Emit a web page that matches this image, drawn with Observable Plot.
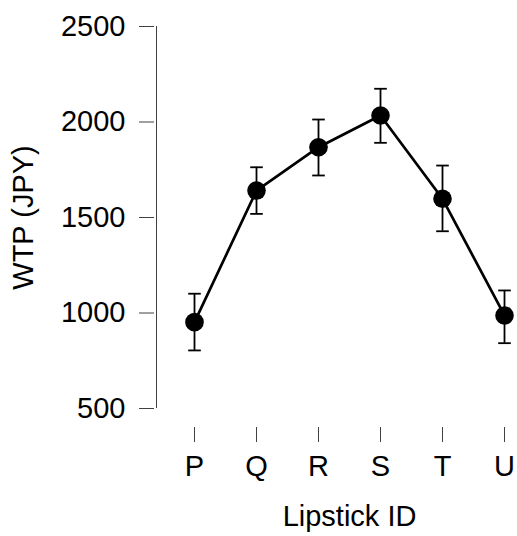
<!DOCTYPE html>
<html>
<head>
<meta charset="utf-8">
<script src="https://cdn.jsdelivr.net/npm/d3@7"></script>
<script src="https://cdn.jsdelivr.net/npm/@observablehq/plot@0.6"></script>
<style>
  html, body { margin: 0; padding: 0; background: white; }
</style>
</head>
<body>
<div id="chart"></div>
<script>
const ids = ["P", "Q", "R", "S", "T", "U"];
const wtp = [952, 1641, 1868, 2034, 1598, 987];
const errLow = [804, 1519, 1720, 1891, 1428, 842];
const errHigh = [1101, 1763, 2013, 2174, 1772, 1118];
const yTicks = [500, 1000, 1500, 2000, 2500];
const xTitle = "Lipstick ID";
const yTitle = "WTP (JPY)";

const data = ids.map((id, i) => ({id, wtp: wtp[i], lo: errLow[i], hi: errHigh[i]}));

const capSymbol = {
  draw(context, size) {
    const w = Math.sqrt(size / Math.PI);
    context.moveTo(-w, 0);
    context.lineTo(w, 0);
  }
};

const axisColor = "#404040";

const chart = Plot.plot({
  width: 517,
  height: 536,
  marginLeft: 192,
  marginRight: 11,
  marginTop: 26,
  marginBottom: 128,
  style: {fontFamily: "'Liberation Sans', Arial, sans-serif", fontSize: "29px", color: "black", background: "white"},
  x: {type: "point", domain: ids, padding: 0},
  y: {domain: [yTicks[0], yTicks[yTicks.length - 1]]},
  marks: [
    Plot.ruleX([ids[0]], {y1: yTicks[0], y2: yTicks[yTicks.length - 1], dx: -38, stroke: axisColor, strokeWidth: 1}),
    Plot.axisY({ticks: yTicks, tickSize: 15, tickPadding: 14, dx: -38, label: null, stroke: axisColor, fill: "black", tickFormat: d => String(d)}),
    Plot.ruleY([yTicks[0]], {x1: ids[0], x2: ids[ids.length - 1], dy: 19, stroke: axisColor, strokeWidth: 1}),
    Plot.axisX({tickSize: 15, tickPadding: 13, dy: 19, label: null, stroke: axisColor, fill: "black"}),
    Plot.ruleX(data, {x: "id", y1: "lo", y2: "hi", stroke: "black", strokeWidth: 1.8}),
    Plot.dot(data, {x: "id", y: "lo", symbol: capSymbol, r: 6.3, stroke: "black", strokeWidth: 1.8, fill: "none"}),
    Plot.dot(data, {x: "id", y: "hi", symbol: capSymbol, r: 6.3, stroke: "black", strokeWidth: 1.8, fill: "none"}),
    Plot.line(data, {x: "id", y: "wtp", stroke: "black", strokeWidth: 2.7}),
    Plot.dot(data, {x: "id", y: "wtp", r: 9.3, fill: "black", stroke: "none"}),
    Plot.text([yTitle], {frameAnchor: "left", rotate: -90, textAnchor: "middle", lineAnchor: "middle", dx: -169, fill: "black", fontSize: 29}),
    Plot.text([xTitle], {frameAnchor: "bottom", textAnchor: "middle", lineAnchor: "middle", dy: 108, fill: "black", fontSize: 29})
  ]
});

document.getElementById("chart").appendChild(chart);
</script>
</body>
</html>
